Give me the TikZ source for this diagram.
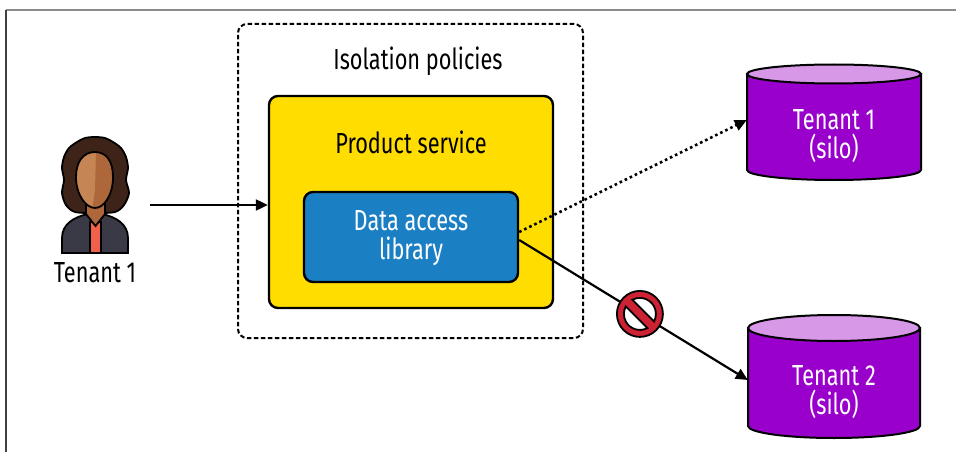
\documentclass[tikz,border=0pt]{standalone}
\usepackage{fontspec}
\setmainfont[FakeStretch=0.75]{Fira Sans}
\usetikzlibrary{arrows.meta,calc}

\definecolor{svcyellow}{HTML}{FFDD00}
\definecolor{libblue}{HTML}{1B7FC4}
\definecolor{silopurple}{HTML}{9900CC}
\definecolor{silotop}{HTML}{D898E8}
\definecolor{stopred}{HTML}{CC2233}
\definecolor{hairbrown}{HTML}{3E2418}
\definecolor{skinlight}{HTML}{C68554}
\definecolor{skindark}{HTML}{AE663B}
\definecolor{jacket}{HTML}{3A3A46}
\definecolor{shirtred}{HTML}{F0604A}

\tikzset{
  label text/.style={font=\fontsize{29}{29.5}\selectfont, align=center, inner sep=0pt},
  policybox/.style={draw, dashed, dash pattern=on 4.5pt off 2.5pt, line width=2pt, rounded corners=9pt},
  svcbox/.style={draw, fill=svcyellow, line width=2.4pt, rounded corners=9pt},
  libbox/.style={draw, fill=libblue, line width=2.4pt, rounded corners=9pt},
  silotext/.style={label text, text=white, minimum width=174pt},
  flow/.style={line width=2.2pt, -{Triangle[length=12pt,width=11pt]}},
  dotflow/.style={flow, line width=2.6pt, dash pattern=on 2.6pt off 3pt},
  outline/.style={draw=black, line width=1.8pt},
}

\begin{document}
\begin{tikzpicture}[x=1pt, y=-1pt]
\useasboundingbox (0,0) rectangle (956,452);

% page frame
\draw[line width=1.5pt, black!45] (6,10) -- (956,10);
\draw[line width=1.5pt, black!75] (6,10) -- (6,452);

% isolation policies and the product service
\node[policybox, minimum width=345pt, minimum height=314pt] (policy) at (410.5,181) {};
\node[label text] (policylabel) at (418,61) {Isolation policies};
\node[svcbox, minimum width=284pt, minimum height=212pt] (service) at (411,202) {};
\node[label text] (servicelabel) at (411,142) {Product service};
\node[libbox, minimum width=214pt, minimum height=90pt] (lib) at (411,237) {};
\node[label text, text=white] (liblabel) at (411,238) {Data access\\library};

% tenant user
\begin{scope}[outline]
  \filldraw[fill=hairbrown] plot[smooth cycle] coordinates {(95,137) (105,138) (113,142) (121,148) (126,157) (128,168) (126,180) (129,193) (124,205) (115,212) (95,213) (75,212) (66,205) (62,193) (64,180) (62,168) (64,157) (69,148) (77,142) (85,138)};
  \filldraw[fill=jacket] (62,253) -- (62,238) .. controls (62,224) and (74,217) .. (88,214) -- (102,214) .. controls (116,217) and (128,224) .. (128,238) -- (128,253) -- cycle;
  \filldraw[fill=shirtred] (90,222) -- (101,222) -- (101,253) -- (90,253) -- cycle;
  \filldraw[fill=skindark] (86,200) -- (86,214) -- (95.5,226) -- (105,214) -- (105,200) -- cycle;
\end{scope}
\begin{scope}
  \clip (95,152) .. controls (83,152) and (76,162) .. (76,177) .. controls (76,195) and (86,208) .. (95,208) .. controls (104,208) and (113,195) .. (113,177) .. controls (113,162) and (107,152) .. (95,152);
  \fill[skinlight] (70,145) rectangle (120,212);
  \fill[skindark] (96,150) -- (120,150) -- (120,212) -- (92,212) -- (95,190) -- cycle;
\end{scope}
\draw[outline] (95,152) .. controls (83,152) and (76,162) .. (76,177) .. controls (76,195) and (86,208) .. (95,208) .. controls (104,208) and (113,195) .. (113,177) .. controls (113,162) and (107,152) .. (95,152);
\node[label text] (userlabel) at (95,273) {Tenant 1};
\coordinate (userout) at (150,205);

% silo databases
\filldraw[outline, line width=2pt, fill=silopurple] (747,74) -- (747,170) arc[start angle=180, end angle=0, x radius=87, y radius=10] -- (921,74) -- cycle;
\filldraw[outline, line width=2pt, fill=silotop] (834,74) ellipse[x radius=87, y radius=9.5];
\node[silotext] (silo1) at (834,136) {Tenant 1\\(silo)};

\filldraw[outline, line width=2pt, fill=silopurple] (748,328) -- (748,426) arc[start angle=180, end angle=0, x radius=86, y radius=12] -- (920,328) -- cycle;
\filldraw[outline, line width=2pt, fill=silotop] (834,328) ellipse[x radius=86, y radius=13];
\node[silotext, minimum width=172pt] (silo2) at (834,392) {Tenant 2\\(silo)};

% connectors
\draw[flow] (userout) -- (service.west |- userout);
\coordinate (libout1) at ($(lib.east)+(0,-5)$);
\coordinate (libout2) at ($(lib.east)+(0,3)$);
\coordinate (silo1in) at ($(silo1.west)+(0,-16)$);
\coordinate (silo2in) at ($(silo2.west)+(0,-12)$);
\draw[dotflow] (libout1) -- (silo1in);
\draw[flow] (libout2) -- (silo2in);

% blocked access sign
\coordinate (stop) at ($(libout2)!0.528!(silo2in)$);
\begin{scope}[shift={(stop)}, rotate=-45]
  \fill[stopred, even odd rule] (0,0) circle[radius=23]
    (17.1:16) arc[start angle=17.1, end angle=162.9, radius=16] -- cycle
    (197.1:16) arc[start angle=197.1, end angle=342.9, radius=16] -- cycle;
  \draw[outline] (0,0) circle[radius=23];
  \draw[outline] (17.1:16) arc[start angle=17.1, end angle=162.9, radius=16] -- cycle;
  \draw[outline] (197.1:16) arc[start angle=197.1, end angle=342.9, radius=16] -- cycle;
\end{scope}
\end{tikzpicture}
\end{document}
